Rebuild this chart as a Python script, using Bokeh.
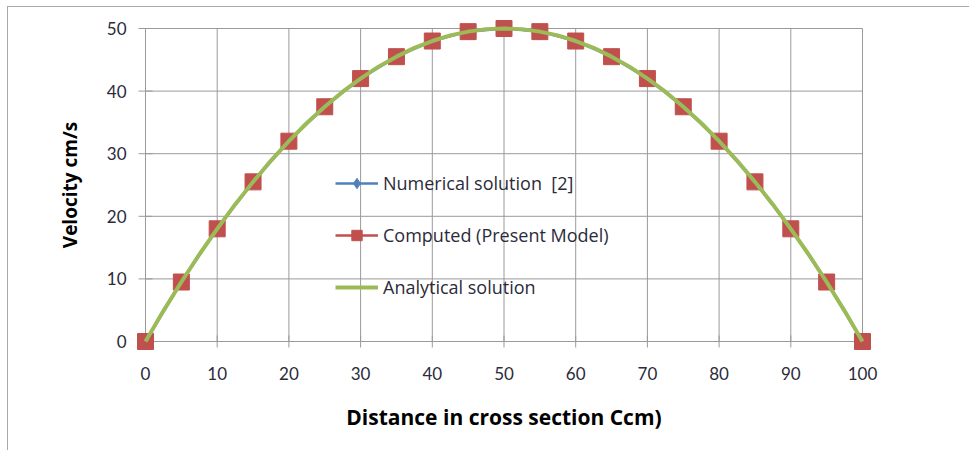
from bokeh.plotting import figure
from bokeh.models import Legend, LegendItem, FixedTicker, ColumnDataSource
from bokeh.embed import file_html
from bokeh.resources import INLINE

# Data
distance = [0, 5, 10, 15, 20, 25, 30, 35, 40, 45, 50, 55, 60, 65, 70, 75, 80, 85, 90, 95, 100]
numerical = [0, 9.5, 18, 25.5, 32, 37.5, 42, 45.5, 48, 49.5, 50, 49.5, 48, 45.5, 42, 37.5, 32, 25.5, 18, 9.5, 0]
computed = [0, 9.5, 18, 25.5, 32, 37.5, 42, 45.5, 48, 49.5, 50, 49.5, 48, 45.5, 42, 37.5, 32, 25.5, 18, 9.5, 0]
analytical_x = [0, 2.5, 5, 7.5, 10, 12.5, 15, 17.5, 20, 22.5, 25, 27.5, 30, 32.5, 35, 37.5, 40, 42.5, 45, 47.5, 50,
                52.5, 55, 57.5, 60, 62.5, 65, 67.5, 70, 72.5, 75, 77.5, 80, 82.5, 85, 87.5, 90, 92.5, 95, 97.5, 100]
analytical_y = [0, 4.9, 9.5, 13.9, 18, 21.9, 25.5, 28.9, 32, 34.9, 37.5, 39.9, 42, 43.9, 45.5, 46.9, 48, 48.9, 49.5, 49.9, 50,
                49.9, 49.5, 48.9, 48, 46.9, 45.5, 43.9, 42, 39.9, 37.5, 34.9, 32, 28.9, 25.5, 21.9, 18, 13.9, 9.5, 4.9, 0]
x_ticks = [0, 10, 20, 30, 40, 50, 60, 70, 80, 90, 100]
y_ticks = [0, 10, 20, 30, 40, 50]
labels = ["Numerical solution  [2]", "Computed (Present Model)", "Analytical solution"]
x_title = "Distance in cross section Ccm)"
y_title = "Velocity cm/s"

TICK_FONT = "Lato"
FONT = "Open Sans"
GRID = "#9a9a9a"
TXT = "#2b2b3a"

# small padding around the 0..100 / 0..50 box so edge markers are not clipped
PAD = 9
p = figure(width=969, height=450, output_backend="svg", toolbar_location=None,
           x_range=(x_ticks[0] - PAD * 100 / 717, x_ticks[-1] + PAD * 100 / 717),
           y_range=(y_ticks[0] - PAD * 50 / 313, y_ticks[-1] + PAD * 50 / 313),
           min_border_left=145 - PAD, min_border_right=107 - PAD,
           min_border_top=28 - PAD, min_border_bottom=109 - PAD)
p.outline_line_color = None
p.background_fill_color = "white"
p.border_fill_color = None
p.styles = {
    "background": "linear-gradient(#a8a8a8,#a8a8a8) 7px 6px / 1px 100% no-repeat, "
                  "linear-gradient(#a8a8a8,#a8a8a8) 7px 6px / 100% 1px no-repeat, white"
}

for ax in (p.xaxis[0], p.yaxis[0]):
    ax.axis_line_color = None
    ax.major_tick_line_color = None
    ax.minor_tick_line_color = None
    ax.major_tick_in = 0
    ax.major_tick_out = 0
    ax.major_label_text_font = TICK_FONT
    ax.major_label_text_font_size = "17px"
    ax.major_label_text_color = TXT
    ax.axis_label_text_font = FONT
    ax.axis_label_text_font_style = "bold"
    ax.axis_label_text_color = "black"

p.xaxis.axis_label_text_font_size = "21px"
p.yaxis.axis_label_text_font_size = "19px"
p.xaxis.ticker = FixedTicker(ticks=x_ticks)
p.yaxis.ticker = FixedTicker(ticks=y_ticks)
p.xaxis.major_label_standoff = 16
p.yaxis.major_label_standoff = 10
p.xaxis.axis_label = x_title
p.yaxis.axis_label = y_title
p.xaxis.axis_label_standoff = 20
p.yaxis.axis_label_standoff = 21

p.xgrid.visible = False
p.ygrid.visible = False
# grid lines limited to the 0..100 x 0..50 box
p.segment(x0=x_ticks, y0=[y_ticks[0]] * len(x_ticks), x1=x_ticks, y1=[y_ticks[-1]] * len(x_ticks),
          line_color=GRID, line_width=1)
p.segment(x0=[x_ticks[0]] * len(y_ticks), y0=y_ticks, x1=[x_ticks[-1]] * len(y_ticks), y1=y_ticks,
          line_color=GRID, line_width=1)
# outside tick marks (half of each dash lies on its grid line)
p.scatter(x=x_ticks, y=[y_ticks[0]] * len(x_ticks), marker="dash", angle=1.5708, size=12,
          line_color=GRID, line_width=1)
p.scatter(x=[x_ticks[0]] * len(y_ticks), y=y_ticks, marker="dash", size=14,
          line_color=GRID, line_width=1)

src_n = ColumnDataSource(dict(x=distance, y=numerical))
src_c = ColumnDataSource(dict(x=distance, y=computed))
src_a = ColumnDataSource(dict(x=analytical_x, y=analytical_y))

ln = p.line("x", "y", source=src_n, color="#4F81BD", line_width=2.5)
mn = p.scatter("x", "y", source=src_n, marker="diamond", size=12, color="#4F81BD")
mc = p.scatter("x", "y", source=src_c, marker="square", size=16, color="#C0504D")
la = p.line("x", "y", source=src_a, color="#9BBB59", line_width=4)

# legend proxy line for the computed series
lc_leg = p.line([distance[0]], [computed[0]], color="#C0504D", line_width=2.5, visible=False)

legend = Legend(items=[
    LegendItem(label=labels[0], renderers=[ln, mn]),
    LegendItem(label=labels[1], renderers=[lc_leg, mc]),
    LegendItem(label=labels[2], renderers=[la]),
], location=(190 + PAD, 50))
legend.glyph_width = 43
legend.glyph_height = 26
legend.label_height = 26
legend.spacing = 26
legend.padding = 0
legend.margin = 0
legend.label_standoff = 5
legend.label_text_font = FONT
legend.label_text_font_size = "18px"
legend.label_text_color = TXT
legend.background_fill_alpha = 0
legend.border_line_alpha = 0
p.add_layout(legend)

open("out.html", "w").write(file_html(p, INLINE))
